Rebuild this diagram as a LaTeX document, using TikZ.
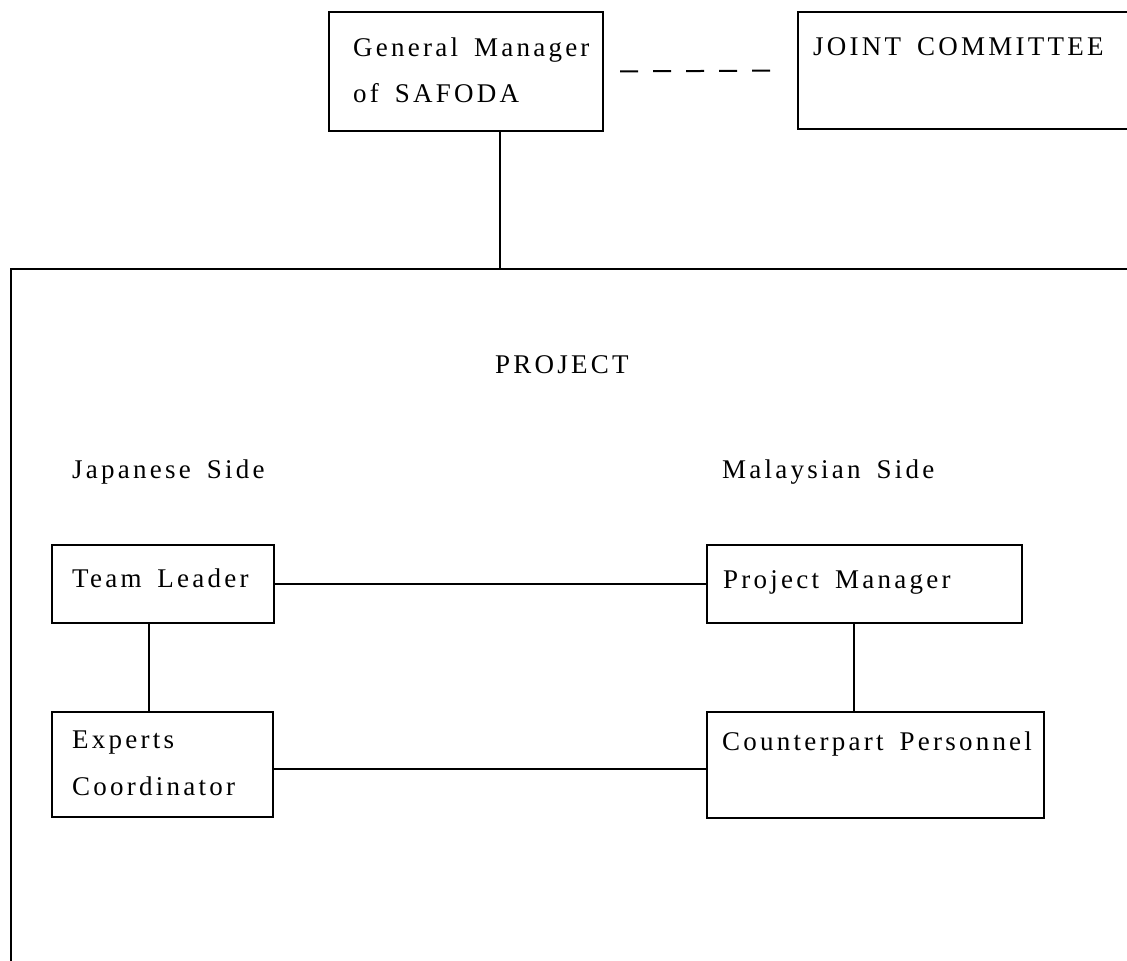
\documentclass[tikz,border=0pt]{standalone}
\usepackage{fontspec}
\setmainfont{Liberation Serif}[LetterSpace=12,WordSpace=1.6]
\usetikzlibrary{positioning}

\tikzset{
  box/.style={draw,line width=2pt,anchor=north west,inner sep=0pt},
  txt/.style={anchor=base west,inner sep=0pt,align=left,font=\fontsize{27}{46}\selectfont},
  link/.style={line width=2pt},
  dashlink/.style={line width=2pt,dash pattern=on 18pt off 15pt,shorten <=16pt,shorten >=17pt}
}

\begin{document}
\begin{tikzpicture}[x=1pt,y=-1pt]
  \useasboundingbox (0,0) rectangle (1127,961);
  \clip (0,0) rectangle (1127,961);

  % boxes
  \node[box,minimum width=274pt,minimum height=119pt] at (328,11) (gm) {};
  \node[box,minimum width=400pt,minimum height=117pt] at (797,11) (jc) {};
  \node[box,minimum width=1200pt,minimum height=800pt] at (10,268) (proj) {};
  \node[box,minimum width=222pt,minimum height=78pt] at (51,544) (tl) {};
  \node[box,minimum width=221pt,minimum height=105pt] at (51,711) (ec) {};
  \node[box,minimum width=315pt,minimum height=78pt] at (706,544) (pm) {};
  \node[box,minimum width=337pt,minimum height=106pt] at (706,711) (cp) {};

  % texts (base = last line)
  \node[txt] at (353,102) (gmt) {General Manager\\of SAFODA};
  \node[txt] at (813,55) (jct) {JOINT COMMITTEE};
  \node[txt] at (495,373) (projt) {PROJECT};
  \node[txt] at (72,478) (jps) {Japanese Side};
  \node[txt] at (722,478) (mys) {Malaysian Side};
  \node[txt] at (72,587) (tlt) {Team Leader};
  \node[txt,font=\fontsize{27}{47}\selectfont] at (72,795) (ect) {Experts\\Coordinator};
  \node[txt] at (723,588) (pmt) {Project Manager};
  \node[txt] at (722,750) (cpt) {Counterpart Personnel};

  % links
  \coordinate (jn) at (500,268);
  \draw[link] (gm.south -| jn) -- (jn);
  \draw[dashlink] (gm.east) -- (jc.west);
  \draw[link] (tl.east) -- (pm.west);
  \draw[link] ([xshift=-14pt]tl.south) -- ([xshift=-14pt]tl.south |- ec.north);
  \draw[link] ([xshift=-11pt]pm.south) -- ([xshift=-11pt]pm.south |- cp.north);
  \draw[link] ([yshift=-4pt]ec.east) -- ([yshift=-4pt]ec.east -| cp.west);
\end{tikzpicture}
\end{document}
